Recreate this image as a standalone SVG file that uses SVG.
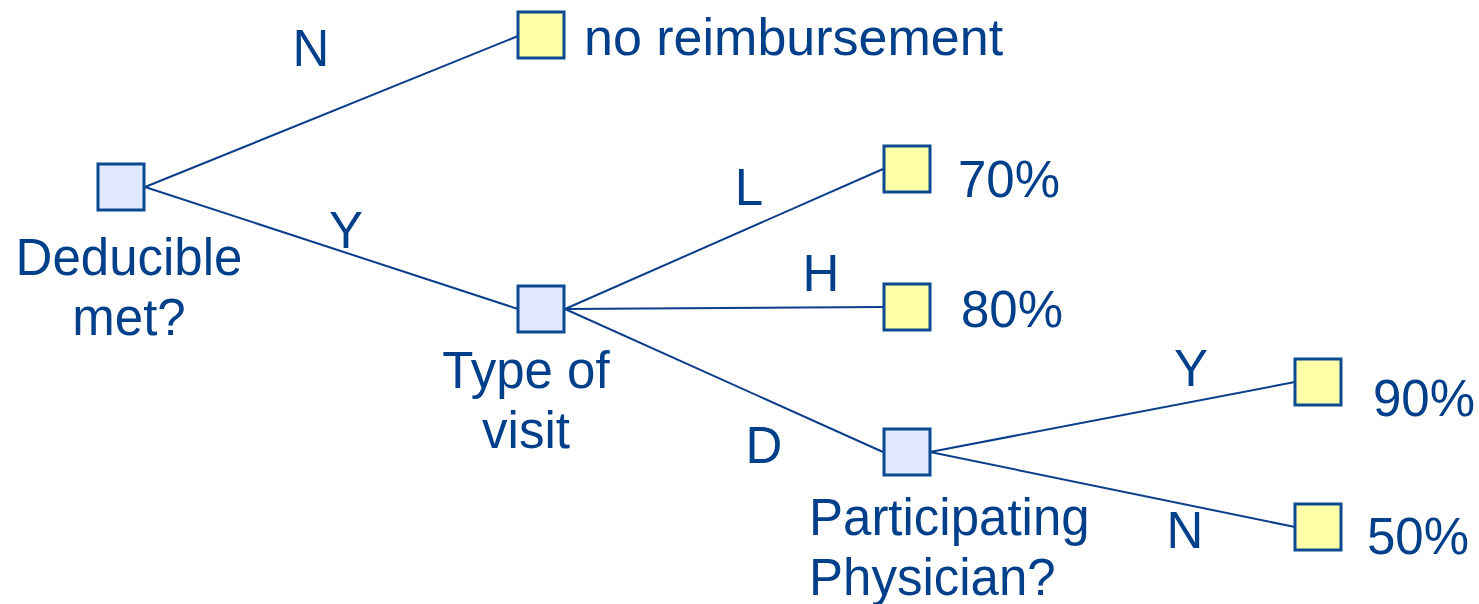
<svg xmlns="http://www.w3.org/2000/svg" width="1479" height="604" viewBox="0 0 1479 604">
<style>
.dec{fill:#dfe8fc;stroke:#0b4a92;stroke-width:3}
.leaf{fill:#ffffa8;stroke:#0b4a92;stroke-width:3}
.con{stroke:#0b3e8a;stroke-width:2;fill:none}
text{font-family:"Liberation Sans",Arial,sans-serif;font-size:51px;fill:#003f8a}
.m{text-anchor:middle}
</style>
<rect width="1479" height="604" fill="#ffffff"/>
<g id="connectors">
<line class="con" x1="145" y1="187" x2="518" y2="36"/>
<line class="con" x1="145" y1="187" x2="518" y2="309"/>
<line class="con" x1="565" y1="309" x2="883" y2="169"/>
<line class="con" x1="565" y1="309" x2="883" y2="307"/>
<line class="con" x1="565" y1="309" x2="883" y2="452"/>
<line class="con" x1="930" y1="452" x2="1295" y2="382"/>
<line class="con" x1="930" y1="452" x2="1295" y2="527"/>
<text class="m" x="311" y="66">N</text>
<text class="m" x="346" y="248">Y</text>
<text class="m" x="749" y="205">L</text>
<text class="m" x="821" y="291">H</text>
<text class="m" x="764" y="463">D</text>
<text class="m" x="1191" y="386">Y</text>
<text class="m" x="1185" y="548">N</text>
</g>
<g id="root">
<rect class="dec" x="98" y="164" width="46" height="46"/>
<text class="m" x="129" y="275">Deducible</text>
<text class="m" x="129" y="335">met?</text>
</g>
<g id="no-reimbursement">
<rect class="leaf" x="518" y="12" width="46" height="46"/>
<text x="584" y="55" style="font-size:52px">no reimbursement</text>
</g>
<g id="type-of-visit">
<rect class="dec" x="518" y="286" width="46" height="46"/>
<text class="m" x="526" y="388">Type of</text>
<text class="m" x="526" y="448">visit</text>
</g>
<g id="p70">
<rect class="leaf" x="884" y="146" width="46" height="46"/>
<text x="958" y="197">70%</text>
</g>
<g id="p80">
<rect class="leaf" x="884" y="284" width="46" height="46"/>
<text x="961" y="327">80%</text>
</g>
<g id="participating">
<rect class="dec" x="884" y="429" width="46" height="46"/>
<text x="809" y="535">Participating</text>
<text x="809" y="595">Physician?</text>
</g>
<g id="p90">
<rect class="leaf" x="1295" y="359" width="46" height="46"/>
<text x="1373" y="416">90%</text>
</g>
<g id="p50">
<rect class="leaf" x="1295" y="504" width="46" height="46"/>
<text x="1367" y="554">50%</text>
</g>
</svg>
